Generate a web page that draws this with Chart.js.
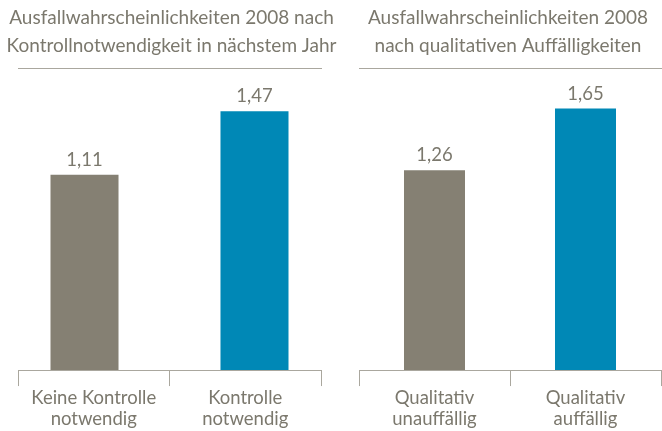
<!DOCTYPE html>
<html lang="de">
<head>
<meta charset="utf-8">
<title>Ausfallwahrscheinlichkeiten 2008</title>
<script src="https://cdn.jsdelivr.net/npm/chart.js@4/dist/chart.umd.min.js"></script>
<style>
    body { margin: 0; background: #fff; }
    .panel { position: absolute; top: 0; height: 431px; }
    #panelLeft { left: 0; width: 340px; }
    #panelRight { left: 340px; width: 322px; }
</style>
</head>
<body>
<div class="panel" id="panelLeft"><canvas id="controlChart"></canvas></div>
<div class="panel" id="panelRight"><canvas id="qualityChart"></canvas></div>
<script>
// Ausfallwahrscheinlichkeiten in Prozent
const controlLabels = [['Keine Kontrolle', 'notwendig'], ['Kontrolle', 'notwendig']];
const noControlValues = [1.11, null];
const controlValues = [null, 1.47];

const qualityLabels = [['Qualitativ', 'unauffällig'], ['Qualitativ', 'auffällig']];
const qualityValues = [1.26, 1.65];

const controlTitle = ['Ausfallwahrscheinlichkeiten 2008 nach', 'Kontrollnotwendigkeit in nächstem Jahr'];
const qualityTitle = ['Ausfallwahrscheinlichkeiten 2008', 'nach qualitativen Auffälligkeiten'];

const GRAY = '#858073';
const BLUE = '#0088b6';
const TEXT = '#7b786d';
const LINE = '#aaa79e';
const FONT = 'Lato';

// Wert über jedem Balken, deutsches Zahlenformat
const valueLabels = {
    id: 'valueLabels',
    afterDatasetsDraw(chart) {
        const ctx = chart.ctx;
        ctx.save();
        ctx.font = '18.5px ' + FONT;
        ctx.fillStyle = TEXT;
        ctx.textAlign = 'center';
        ctx.textBaseline = 'alphabetic';
        chart.data.datasets.forEach((ds, i) => {
            chart.getDatasetMeta(i).data.forEach((bar, j) => {
                const v = ds.data[j];
                if (v === null) return;
                ctx.fillText(v.toFixed(2).replace('.', ','), bar.x, bar.y - 9);
            });
        });
        ctx.restore();
    }
};

// Trennlinie unter dem Titel
const titleRule = {
    id: 'titleRule',
    afterDraw(chart) {
        const ctx = chart.ctx;
        const y = Math.round(chart.titleBlock.bottom - 12) + 0.5;
        ctx.save();
        ctx.strokeStyle = LINE;
        ctx.lineWidth = 1;
        ctx.beginPath();
        ctx.moveTo(chart.chartArea.left, y);
        ctx.lineTo(chart.chartArea.right + 1, y);
        ctx.stroke();
        ctx.restore();
    }
};

// unsichtbare Achse, hält nur den Rand frei (Titel darf breiter sein)
function spacerAxis(position, width, extra) {
    return Object.assign({
        display: true,
        position: position,
        grid: { display: false, drawTicks: false },
        border: { display: false },
        ticks: { display: false },
        afterFit(scale) { scale.width = width; }
    }, extra);
}

// padLeft verschiebt nur den Titel, marginLeft/Right legen die Zeichenfläche fest
function makeOptions(title, yMax, padLeft, marginLeft, marginRight) {
    return {
        responsive: true,
        maintainAspectRatio: false,
        animation: false,
        layout: { padding: { left: padLeft, right: 0, top: 0, bottom: 0 } },
        plugins: {
            legend: { display: false },
            tooltip: { enabled: false },
            title: {
                display: true,
                text: title,
                color: TEXT,
                font: { family: FONT, size: 19, lineHeight: 28 / 19, weight: 'normal' },
                padding: { top: 4, bottom: 20 }
            }
        },
        scales: {
            x: {
                grid: {
                    display: true,
                    offset: true,
                    drawOnChartArea: false,
                    drawTicks: true,
                    tickLength: 16,
                    color: LINE
                },
                border: { display: true, color: LINE },
                ticks: {
                    color: TEXT,
                    padding: 1.2,
                    maxRotation: 0,
                    font: { family: FONT, size: 18.5, lineHeight: 1.15 }
                }
            },
            y: spacerAxis('left', marginLeft - padLeft, { min: 0, max: yMax }),
            yRight: spacerAxis('right', marginRight, { type: 'linear' })
        }
    };
}

// links: zwei Reihen, damit die Balken nach außen versetzt stehen
new Chart(document.getElementById('controlChart'), {
    type: 'bar',
    data: {
        labels: controlLabels,
        datasets: [
            { label: 'Keine Kontrolle', data: noControlValues, backgroundColor: GRAY },
            { label: 'Kontrolle', data: controlValues, backgroundColor: BLUE }
        ]
    },
    options: Object.assign(makeOptions(controlTitle, 1.648, 3, 18, 19), {
        categoryPercentage: 0.244,
        barPercentage: 3.68
    }),
    plugins: [valueLabels, titleRule]
});

new Chart(document.getElementById('qualityChart'), {
    type: 'bar',
    data: {
        labels: qualityLabels,
        datasets: [
            { label: 'Ausfallwahrscheinlichkeit', data: qualityValues, backgroundColor: [GRAY, BLUE] }
        ]
    },
    options: Object.assign(makeOptions(qualityTitle, 1.83, 14, 19, 1), {
        categoryPercentage: 1,
        barPercentage: 0.404
    }),
    plugins: [valueLabels, titleRule]
});
</script>
</body>
</html>
